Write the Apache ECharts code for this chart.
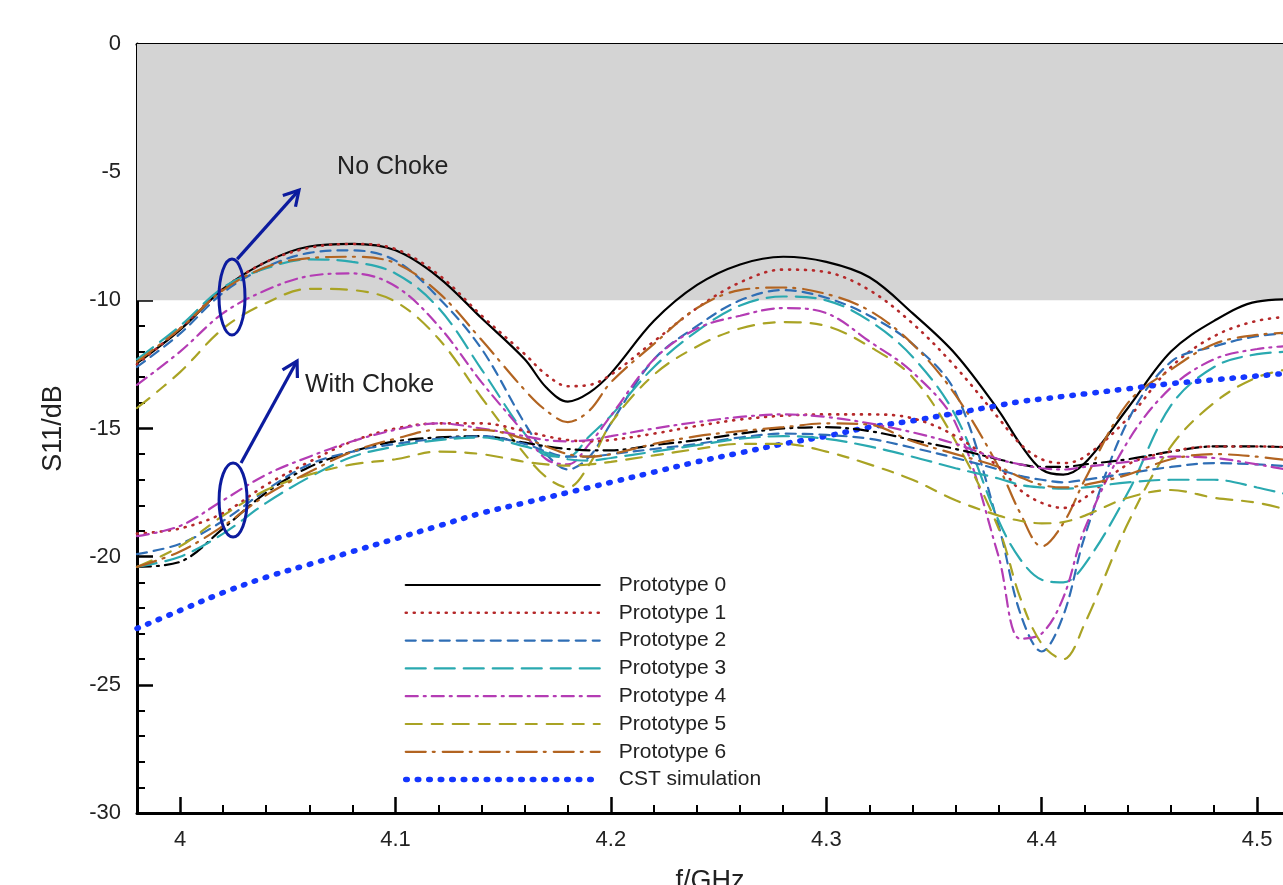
<!DOCTYPE html>
<html>
<head>
<meta charset="utf-8">
<script src="https://cdn.jsdelivr.net/npm/echarts@6/dist/echarts.min.js"></script>
<style>
  html, body { margin: 0; padding: 0; background: #fff; }
  #main { width: 1283px; height: 885px; }
</style>
</head>
<body>
<div id="main"></div>
<script>
// frequency points (GHz), denser around the two resonance dips
var freq = [3.98, 4.00, 4.02, 4.04, 4.06, 4.08, 4.10, 4.12, 4.14, 4.16, 4.17, 4.18, 4.19, 4.20, 4.22, 4.24,
            4.26, 4.28, 4.30, 4.32, 4.34, 4.36, 4.38, 4.39, 4.40, 4.41, 4.42, 4.44, 4.46, 4.48, 4.50, 4.52];

// No Choke
var p0 = [-12.45, -11.15, -9.55, -8.5, -7.9, -7.8, -8.05, -9.1, -10.7, -12.3, -13.4, -13.95, -13.6, -12.85, -10.8, -9.4,
          -8.6, -8.3, -8.5, -9.1, -10.5, -12.1, -14.3, -15.6, -16.6, -16.8, -16.35, -14.2, -12.0, -10.8, -10.05, -9.95];
var p1 = [-12.5, -11.1, -9.55, -8.5, -7.95, -7.8, -8.0, -9.0, -10.6, -12.1, -12.9, -13.35, -13.3, -12.9, -11.6, -10.3,
          -9.3, -8.8, -8.9, -9.6, -10.9, -12.6, -14.6, -15.6, -16.2, -16.35, -16.1, -14.6, -12.6, -11.4, -10.8, -10.6];
var p2 = [-12.6, -11.3, -9.7, -8.7, -8.15, -8.05, -8.45, -9.9, -11.9, -14.8, -16.0, -16.6, -16.1, -14.8, -12.3, -11.0,
          -10.0, -9.6, -9.9, -10.6, -11.7, -13.6, -18.8, -22.2, -23.7, -22.3, -19.2, -14.7, -12.4, -11.8, -11.4, -11.25];
var p3 = [-12.3, -11.0, -9.5, -8.75, -8.4, -8.5, -8.95, -10.3, -12.7, -15.2, -16.05, -16.1, -15.3, -14.5, -12.6, -11.2,
          -10.2, -9.85, -10.0, -10.8, -12.2, -14.5, -18.6, -20.1, -20.9, -21.0, -20.3, -17.5, -14.1, -12.6, -12.1, -12.0];
var p4 = [-13.3, -12.0, -10.5, -9.6, -9.05, -8.95, -9.45, -11.0, -13.2, -15.2, -16.2, -16.4, -15.6, -14.5, -12.3, -11.1,
          -10.6, -10.3, -10.5, -11.6, -12.8, -14.8, -20.0, -23.2, -23.0, -21.6, -18.9, -15.5, -13.4, -12.3, -11.9, -11.75];
var p5 = [-14.2, -12.8, -11.1, -10.1, -9.55, -9.6, -10.05, -11.5, -13.8, -16.0, -16.9, -17.3, -16.4, -14.8, -12.9, -11.8,
          -11.1, -10.85, -11.0, -11.8, -13.0, -15.5, -18.9, -21.6, -23.4, -24.0, -22.6, -18.7, -15.7, -14.0, -13.0, -12.6];
var p6 = [-12.4, -11.1, -9.6, -8.7, -8.35, -8.3, -8.55, -9.7, -11.55, -13.5, -14.3, -14.75, -14.3, -13.2, -11.7, -10.3,
          -9.6, -9.5, -9.75, -10.4, -11.7, -13.7, -16.5, -18.3, -19.6, -18.7, -17.0, -14.0, -12.7, -11.7, -11.35, -11.25];

// With Choke
var p0w = [-20.4, -20.2, -18.9, -17.5, -16.5, -15.9, -15.5, -15.35, -15.3, -15.55, -15.7, -15.8, -15.85, -15.85, -15.65, -15.45,
           -15.2, -15.0, -14.95, -15.1, -15.45, -15.8, -16.2, -16.4, -16.5, -16.5, -16.4, -16.2, -15.9, -15.7, -15.7, -15.75];
var p1w = [-19.1, -18.9, -18.3, -17.2, -16.3, -15.5, -15.0, -14.8, -14.8, -15.1, -15.3, -15.45, -15.5, -15.45, -15.2, -14.9,
           -14.65, -14.5, -14.45, -14.45, -14.6, -15.3, -16.5, -17.4, -17.9, -18.1, -17.7, -16.4, -15.9, -15.7, -15.7, -15.75];
var p2w = [-19.9, -19.5, -18.6, -17.4, -16.4, -15.9, -15.6, -15.4, -15.3, -15.6, -15.9, -16.1, -16.1, -16.0, -15.8, -15.6,
           -15.35, -15.2, -15.25, -15.4, -15.75, -16.15, -16.6, -16.85, -17.0, -17.1, -17.0, -16.75, -16.5, -16.35, -16.4, -16.5];
var p3w = [-20.4, -20.0, -19.1, -17.9, -16.9, -16.1, -15.7, -15.45, -15.35, -15.7, -15.95, -16.2, -16.25, -16.15, -15.9, -15.65,
           -15.4, -15.3, -15.4, -15.7, -16.1, -16.55, -16.95, -17.2, -17.3, -17.35, -17.3, -17.1, -17.0, -17.0, -17.3, -17.7];
var p4w = [-19.2, -18.8, -17.8, -16.8, -16.1, -15.5, -15.05, -14.8, -15.0, -15.3, -15.45, -15.5, -15.45, -15.3, -15.0, -14.75,
           -14.55, -14.45, -14.55, -14.8, -15.15, -15.6, -16.2, -16.4, -16.55, -16.6, -16.5, -16.3, -16.1, -16.15, -16.4, -16.7];
var p5w = [-20.4, -19.6, -18.4, -17.4, -16.8, -16.4, -16.2, -15.9, -16.0, -16.3, -16.4, -16.45, -16.4, -16.3, -16.05, -15.8,
           -15.6, -15.6, -15.9, -16.4, -17.0, -17.8, -18.4, -18.6, -18.7, -18.65, -18.4, -17.7, -17.4, -17.7, -17.9, -18.3];
var p6w = [-20.4, -19.8, -18.8, -17.6, -16.7, -15.9, -15.4, -15.05, -15.05, -15.4, -15.7, -16.0, -16.1, -16.0, -15.6, -15.3,
           -15.1, -14.95, -14.8, -14.85, -15.5, -16.0, -16.5, -16.9, -17.2, -17.3, -17.2, -16.8, -16.2, -16.0, -16.1, -16.3];

var cst = [-22.8, -22.1, -21.4, -20.8, -20.3, -19.8, -19.3, -18.8, -18.3, -17.9, -17.7, -17.5, -17.3, -17.1, -16.7, -16.3,
           -15.95, -15.6, -15.3, -14.95, -14.7, -14.4, -14.1, -13.95, -13.85, -13.75, -13.65, -13.45, -13.25, -13.1, -12.95, -12.8];

var majorTicks = [4.0, 4.1, 4.2, 4.3, 4.4, 4.5];
var minorTicks = [4.02, 4.04, 4.06, 4.08, 4.12, 4.14, 4.16, 4.18, 4.22, 4.24, 4.26, 4.28,
                  4.32, 4.34, 4.36, 4.38, 4.42, 4.44, 4.46, 4.48];
var legendNames = ['Prototype 0', 'Prototype 1', 'Prototype 2', 'Prototype 3',
                   'Prototype 4', 'Prototype 5', 'Prototype 6', 'CST simulation'];

var FONT = 'Liberation Sans, Arial, Helvetica, sans-serif';

function pairs(vals) {
    return freq.map(function (f, i) { return [f, vals[i]]; });
}

function line(name, vals, color, dash, width) {
    return {
        name: name,
        type: 'line',
        data: pairs(vals),
        symbol: 'none',
        smooth: 0.35,
        z: 3,
        lineStyle: { color: color, width: width, type: dash, cap: 'round' },
        itemStyle: { color: color }
    };
}

var dom = document.getElementById('main');
var chart = echarts.init(dom, null, { renderer: 'canvas' });

var gridBox = { left: 137, right: 0, top: 44, bottom: 72, outerBoundsMode: 'none', containLabel: false };

var option = {
    backgroundColor: '#fff',
    animation: false,
    grid: [Object.assign({}, gridBox), Object.assign({}, gridBox)],
    legend: {
        data: legendNames,
        orient: 'vertical',
        left: 398,
        top: 569,
        itemWidth: 194,
        itemHeight: 14,
        itemGap: 5.8,
        selectedMode: false,
        itemStyle: { opacity: 0, borderWidth: 0 },
        lineStyle: { width: 'inherit' },
        textStyle: { fontSize: 21, fontFamily: FONT, color: '#222', lineHeight: 22, padding: [0, 0, 0, 14] }
    },
    xAxis: [{
        type: 'value',
        gridIndex: 0,
        min: 3.98,
        max: 4.512,
        position: 'bottom',
        name: 'f/GHz',
        nameLocation: 'middle',
        nameGap: 55,
        nameTextStyle: { fontSize: 27, fontFamily: FONT, color: '#222' },
        axisLine: { show: true, onZero: false, lineStyle: { color: '#000', width: 3 } },
        axisTick: { show: true, inside: true, length: 16, customValues: majorTicks, lineStyle: { color: '#000', width: 2.5 } },
        axisLabel: { customValues: majorTicks, fontSize: 22, fontFamily: FONT, color: '#222', margin: 16 },
        splitLine: { show: false }
    }, {
        type: 'value',
        gridIndex: 0,
        min: 3.98,
        max: 4.512,
        position: 'top',
        axisLine: { show: true, onZero: false, lineStyle: { color: '#000', width: 3 } },
        axisTick: { show: false },
        axisLabel: { show: false },
        splitLine: { show: false }
    }, {
        // minor ticks, drawn on an overlaid grid
        type: 'value',
        gridIndex: 1,
        min: 3.98,
        max: 4.512,
        position: 'bottom',
        axisLine: { show: false, onZero: false },
        axisTick: { show: true, inside: true, length: 8, customValues: minorTicks, lineStyle: { color: '#000', width: 2 } },
        axisLabel: { show: false },
        splitLine: { show: false }
    }],
    yAxis: [{
        type: 'value',
        gridIndex: 0,
        min: -30,
        max: 0,
        interval: 5,
        name: 'S11/dB',
        nameLocation: 'middle',
        nameGap: 70,
        nameTextStyle: { fontSize: 27, fontFamily: FONT, color: '#222' },
        axisLine: { show: true, onZero: false, lineStyle: { color: '#000', width: 3 } },
        axisTick: { show: true, inside: true, length: 16, lineStyle: { color: '#000', width: 2.5 } },
        minorTick: { show: true, splitNumber: 5, length: 8, lineStyle: { color: '#000', width: 2 } },
        axisLabel: { fontSize: 22, fontFamily: FONT, color: '#222', margin: 16 },
        splitLine: { show: false }
    }, {
        type: 'value',
        gridIndex: 1,
        min: -30,
        max: 0,
        show: false
    }],
    series: [
        {
            // grey band for S11 above -10 dB
            name: 'band',
            type: 'line',
            data: [],
            z: 1,
            markArea: {
                silent: true,
                itemStyle: { color: '#d4d4d4' },
                data: [[{ yAxis: 0 }, { yAxis: -10 }]]
            }
        },
        line('Prototype 0', p0, '#000000', 'solid', 2.2),
        line('Prototype 1', p1, '#b5292a', [1, 7], 2.6),
        line('Prototype 2', p2, '#2f6eb5', [10, 7], 2.2),
        line('Prototype 3', p3, '#2aa9b0', [20, 9], 2.2),
        line('Prototype 4', p4, '#b43cb4', [12, 6, 2, 6], 2.2),
        line('Prototype 5', p5, '#a9a324', [16, 10, 11, 10], 2.2),
        line('Prototype 6', p6, '#b26421', [20, 7, 2, 8], 2.2),
        line('CST simulation', cst, '#1436ff', [1.5, 10], 5.5),
        line('Prototype 0', p0w, '#000000', [14, 6, 2, 6], 2.2),
        line('Prototype 1', p1w, '#b5292a', [1, 7], 2.6),
        line('Prototype 2', p2w, '#2f6eb5', [10, 7], 2.2),
        line('Prototype 3', p3w, '#2aa9b0', [20, 9], 2.2),
        line('Prototype 4', p4w, '#b43cb4', [12, 6, 2, 6], 2.2),
        line('Prototype 5', p5w, '#a9a324', [16, 10, 11, 10], 2.2),
        line('Prototype 6', p6w, '#b26421', [20, 7, 2, 8], 2.2)
    ]
};

chart.setOption(option, true);

// annotations: ellipses around the curve groups with arrows and labels
function px(f, db) {
    return chart.convertToPixel({ xAxisIndex: 0, yAxisIndex: 0 }, [f, db]);
}
var ARROW = '#0c1b9e';
function arrow(a, b) {
    var ang = Math.atan2(b[1] - a[1], b[0] - a[0]);
    var L = 17, w = Math.PI / 6;
    return [
        { type: 'line', shape: { x1: a[0], y1: a[1], x2: b[0], y2: b[1] }, style: { stroke: ARROW, lineWidth: 3.2 } },
        { type: 'polyline', shape: { points: [
            [b[0] - L * Math.cos(ang - w), b[1] - L * Math.sin(ang - w)],
            b,
            [b[0] - L * Math.cos(ang + w), b[1] - L * Math.sin(ang + w)]
        ] }, style: { stroke: ARROW, lineWidth: 3.2, fill: null } }
    ];
}
function ellipse(c, rx, ry) {
    return { type: 'ellipse', shape: { cx: c[0], cy: c[1], rx: rx, ry: ry }, style: { stroke: ARROW, lineWidth: 3, fill: null } };
}
function label(p, text) {
    return { type: 'text', x: p[0], y: p[1], style: { text: text, fontSize: 25, fontFamily: FONT, fill: '#222', verticalAlign: 'middle', align: 'left' } };
}

var g = [];
g.push(ellipse(px(4.0241, -9.87), 13, 38));
g = g.concat(arrow(px(4.0265, -8.39), px(4.0552, -5.70)));
g.push(label(px(4.0729, -4.8), 'No Choke'));
g.push(ellipse(px(4.0246, -17.79), 14, 37));
g = g.concat(arrow(px(4.0283, -16.35), px(4.0543, -12.37)));
g.push(label(px(4.0580, -13.3), 'With Choke'));

g.forEach(function (el) { el.z = 100; });
chart.setOption({ graphic: g });
</script>
</body>
</html>
